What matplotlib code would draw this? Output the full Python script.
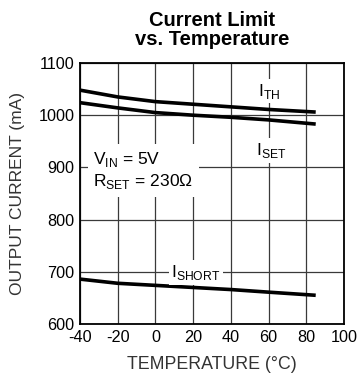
import matplotlib
matplotlib.use("Agg")
import matplotlib.pyplot as plt

plt.rcParams['font.family'] = ['Liberation Sans', 'DejaVu Sans']
plt.rcParams['axes.unicode_minus'] = False

temp = [-40, -20, 0, 20, 40, 60, 85]
i_th = [1048, 1035, 1026, 1021, 1016, 1011, 1006]
i_set = [1024, 1014, 1005, 1000, 996, 991, 983]
i_short = [686, 678, 674, 670, 666, 661, 655]

xticks = [-40, -20, 0, 20, 40, 60, 80, 100]
yticks = [600, 700, 800, 900, 1000, 1100]

fig = plt.figure(figsize=(3.64, 3.75), dpi=100)
ax = fig.add_axes([80/364, 1-324/375, 264/364, 261/375])

for s in (i_th, i_set, i_short):
    ax.plot(temp, s, color='black', lw=2.6, solid_capstyle='butt', zorder=3)

ax.set_xlim(-40, 100)
ax.set_ylim(600, 1100)
ax.set_xticks(xticks)
ax.set_yticks(yticks)
ax.tick_params(length=0, labelsize=11.7)
ax.tick_params(axis='x', pad=4.2)
ax.tick_params(axis='y', pad=4)
ax.grid(True, color='#3a3a3a', lw=0.9)
ax.set_axisbelow(True)
for sp in ax.spines.values():
    sp.set_linewidth(1.3)

box = dict(facecolor='white', edgecolor='none', pad=2)
ax.text(54.2, 1046, r'I$_{\mathregular{TH}}$', fontsize=12.5, ha='left', va='center', bbox=box, zorder=4)
ax.text(53.2, 932, r'I$_{\mathregular{SET}}$', fontsize=12.5, ha='left', va='center', bbox=box, zorder=4)
ax.text(-33, 894, 'V$_{\\mathregular{IN}}$ = 5V\nR$_{\\mathregular{SET}}$ = 230\u03a9', fontsize=12.5,
        ha='left', va='center', linespacing=1.25,
        bbox=dict(facecolor='white', edgecolor='none', pad=4), zorder=4)
ax.text(8.5, 699, r'I$_{\mathregular{SHORT}}$', fontsize=12.5, ha='left', va='center', bbox=box, zorder=4)

ax.set_xlabel('TEMPERATURE (\u00b0C)', fontsize=12.8, color='#333333')
ax.xaxis.set_label_coords(0.5, -0.123)
ax.xaxis.label.set_va('top')
ax.set_ylabel('OUTPUT CURRENT (mA)', fontsize=12.5, color='#333333')
ax.yaxis.set_label_coords(-0.21, 0.5)
fig.suptitle('Current Limit\nvs. Temperature', fontsize=14.5, fontweight='bold',
             linespacing=1.0, x=212/364, y=1-11/375, va='top')

fig.savefig('out.png', dpi=100)
